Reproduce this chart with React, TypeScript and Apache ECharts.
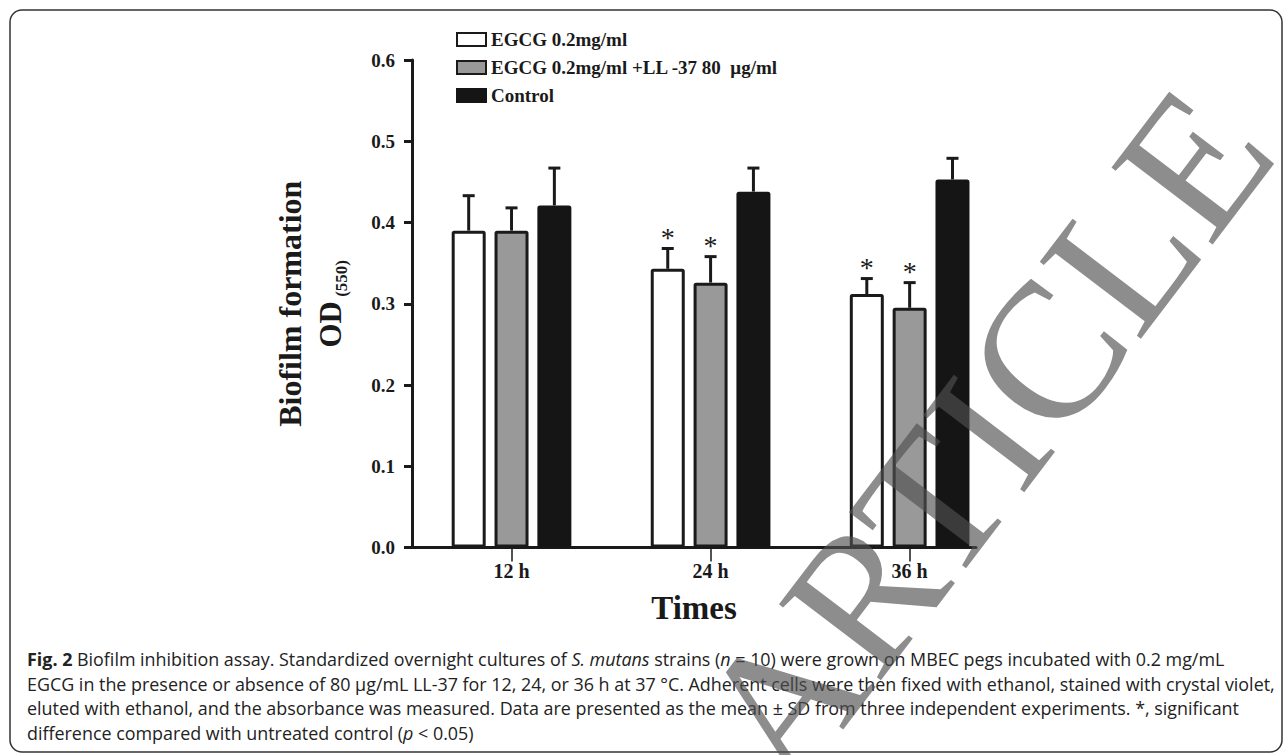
import React, { useEffect, useRef } from 'react';
import * as echarts from 'echarts';

// ---- data ----
const timeLabels = ['12 h', '24 h', '36 h'];
const timeValues = [12, 24, 36];
const seriesNames = ['EGCG 0.2mg/ml', 'EGCG 0.2mg/ml +LL -37 80  μg/ml', 'Control'];
const egcgMeans = [0.39, 0.343, 0.312];
const egcgSD = [0.043, 0.025, 0.019];
const comboMeans = [0.39, 0.326, 0.295];
const comboSD = [0.028, 0.032, 0.031];
const controlMeans = [0.421, 0.438, 0.453];
const controlSD = [0.046, 0.029, 0.026];
const egcgSig = [0, 1, 1];
const comboSig = [0, 1, 1];
const controlSig = [0, 0, 0];
const yTicks = [0, 0.1, 0.2, 0.3, 0.4, 0.5, 0.6];

const captionLines = [
  '{b|Fig. 2} Biofilm inhibition assay. Standardized overnight cultures of {i|S. mutans} strains ({i|n} = 10) were grown on MBEC pegs incubated with 0.2 mg/mL',
  'EGCG in the presence or absence of 80 μg/mL LL-37 for 12, 24, or 36 h at 37 °C. Adherent cells were then fixed with ethanol, stained with crystal violet,',
  'eluted with ethanol, and the absorbance was measured. Data are presented as the mean ± SD from three independent experiments. *, significant',
  'difference compared with untreated control ({i|p} < 0.05)',
];
const watermark = 'RETRACTED ARTICLE';

// ---- styling ----
const INK = '#1a1a1a';
const SERIF = '"Liberation Serif", "Times New Roman", serif';
const CAP_FONT = '"Open Sans", Lato, sans-serif';
const CAP_SIZE = 17.9;
const CAP_LH = 24.5;
const BAR_W = 34;
const BAR_GAP = 0.26;
const BAR_STEP = BAR_W * (1 + BAR_GAP);
const fills = ['#ffffff', '#999999', '#151515'];
const borders = [INK, INK, '#151515'];

const meansList = [egcgMeans, comboMeans, controlMeans];
const sdList = [egcgSD, comboSD, controlSD];
const sigList = [egcgSig, comboSig, controlSig];

export default function App() {
  const ref = useRef<HTMLDivElement>(null);
  useEffect(() => {
    document.body.style.margin = '0';
    const chart = echarts.init(ref.current!, null, { renderer: 'svg' });

    const barSeries = seriesNames.map((name, k) => ({
      name,
      type: 'bar',
      data: timeValues.map((t, i) => [t, meansList[k][i]]),
      barWidth: BAR_W,
      barGap: `${BAR_GAP * 100}%`,
      itemStyle: { color: fills[k], borderColor: borders[k], borderWidth: 3, borderRadius: 1 },
      silent: true,
      z: 2,
    }));

    const errData: number[][] = [];
    seriesNames.forEach((_, k) => {
      timeValues.forEach((t, i) => {
        errData.push([t, meansList[k][i], sdList[k][i], k, sigList[k][i]]);
      });
    });

    const errSeries = {
      type: 'custom',
      data: errData,
      z: 3,
      silent: true,
      renderItem: (params: any, api: any) => {
        const x = api.value(0);
        const m = api.value(1);
        const sd = api.value(2);
        const k = api.value(3);
        const sig = api.value(4);
        const p0 = api.coord([x, m]);
        const p1 = api.coord([x, m + sd]);
        const cx = p0[0] + (k - 1) * BAR_STEP;
        const children: any[] = [
          { type: 'line', shape: { x1: cx, y1: p0[1], x2: cx, y2: p1[1] }, style: { stroke: INK, lineWidth: 3 } },
          { type: 'line', shape: { x1: cx - 6, y1: p1[1], x2: cx + 6, y2: p1[1] }, style: { stroke: INK, lineWidth: 3 } },
        ];
        if (sig) {
          children.push({
            type: 'text',
            style: {
              text: '*', x: cx, y: p1[1] + 3, align: 'center', verticalAlign: 'bottom',
              fontSize: 28, fontFamily: SERIF, fill: INK,
            },
          });
        }
        return { type: 'group', children };
      },
    };

    const option: any = {
      animation: false,
      backgroundColor: '#ffffff',
      legend: {
        orient: 'vertical',
        left: 456,
        top: 30,
        padding: 0,
        itemWidth: 29,
        itemHeight: 13,
        itemGap: 9,
        selectedMode: false,
        data: seriesNames.map((name, k) => ({
          name,
          icon: 'rect',
          itemStyle: { color: fills[k], borderColor: borders[k], borderWidth: 2 },
        })),
        textStyle: { fontFamily: SERIF, fontWeight: 'bold', fontSize: 19, lineHeight: 19, color: INK },
      },
      grid: { left: 412, top: 60, width: 564, height: 487.5 },
      xAxis: {
        type: 'value',
        min: 6,
        max: 40,
        name: 'Times',
        nameLocation: 'middle',
        nameGap: 44,
        nameTextStyle: { fontFamily: SERIF, fontWeight: 'bold', fontSize: 33, color: INK },
        splitLine: { show: false },
        axisLine: { show: true, lineStyle: { color: INK, width: 3 } },
        axisTick: { show: true, customValues: timeValues, length: 14, lineStyle: { color: INK, width: 1.5 } },
        axisLabel: {
          customValues: timeValues,
          formatter: (v: number) => timeLabels[timeValues.indexOf(v)],
          margin: 13,
          fontFamily: SERIF,
          fontWeight: 'bold',
          fontSize: 20,
          color: INK,
        },
      },
      yAxis: {
        type: 'value',
        min: 0,
        max: 0.6,
        interval: 0.1,
        name: 'Biofilm formation\n{od|OD}{sub| (550)}',
        nameLocation: 'middle',
        nameRotate: 90,
        nameGap: 62,
        nameTextStyle: {
          fontFamily: SERIF, fontWeight: 'bold', fontSize: 32, lineHeight: 40, color: INK,
          rich: {
            od: { fontFamily: SERIF, fontWeight: 'bold', fontSize: 31, lineHeight: 40, color: INK },
            sub: { fontFamily: SERIF, fontWeight: 'bold', fontSize: 17, lineHeight: 40, verticalAlign: 'bottom', color: INK },
          },
        },
        splitLine: { show: false },
        axisLine: { show: true, lineStyle: { color: INK, width: 3 } },
        axisTick: { show: true, length: 8, lineStyle: { color: INK, width: 3 } },
        axisLabel: {
          margin: 17,
          formatter: (v: number) => (yTicks.some((t) => Math.abs(t - v) < 1e-9) ? v.toFixed(1) : ''),
          fontFamily: SERIF,
          fontWeight: 'bold',
          fontSize: 19,
          color: INK,
        },
      },
      series: [...barSeries, errSeries],
      graphic: [
        {
          type: 'rect',
          shape: { x: 10, y: 10, width: 1272, height: 742, r: 12 },
          style: { fill: 'none', stroke: '#333333', lineWidth: 1.5 },
          z: 0,
          silent: true,
        },
        {
          type: 'text',
          x: 27,
          y: 647,
          silent: true,
          style: {
            text: captionLines.join('\n'),
            fontFamily: CAP_FONT,
            fontSize: CAP_SIZE,
            lineHeight: CAP_LH,
            fill: '#222222',
            rich: {
              b: { fontFamily: CAP_FONT, fontSize: CAP_SIZE, lineHeight: CAP_LH, fontWeight: 'bold', fill: '#222222' },
              i: { fontFamily: CAP_FONT, fontSize: CAP_SIZE, lineHeight: CAP_LH, fontStyle: 'italic', fill: '#222222' },
            },
          },
        },
        {
          type: 'text',
          x: 1229,
          y: 115,
          rotation: 0.92,
          z: 100,
          silent: true,
          style: {
            text: watermark,
            align: 'right',
            verticalAlign: 'middle',
            fontFamily: SERIF,
            fontSize: 194,
            fill: 'rgba(80,80,80,0.65)',
          },
        },
      ],
    };

    chart.setOption(option);
    return () => chart.dispose();
  }, []);
  return <div ref={ref} style={{ width: 1287, height: 755 }} />;
}
